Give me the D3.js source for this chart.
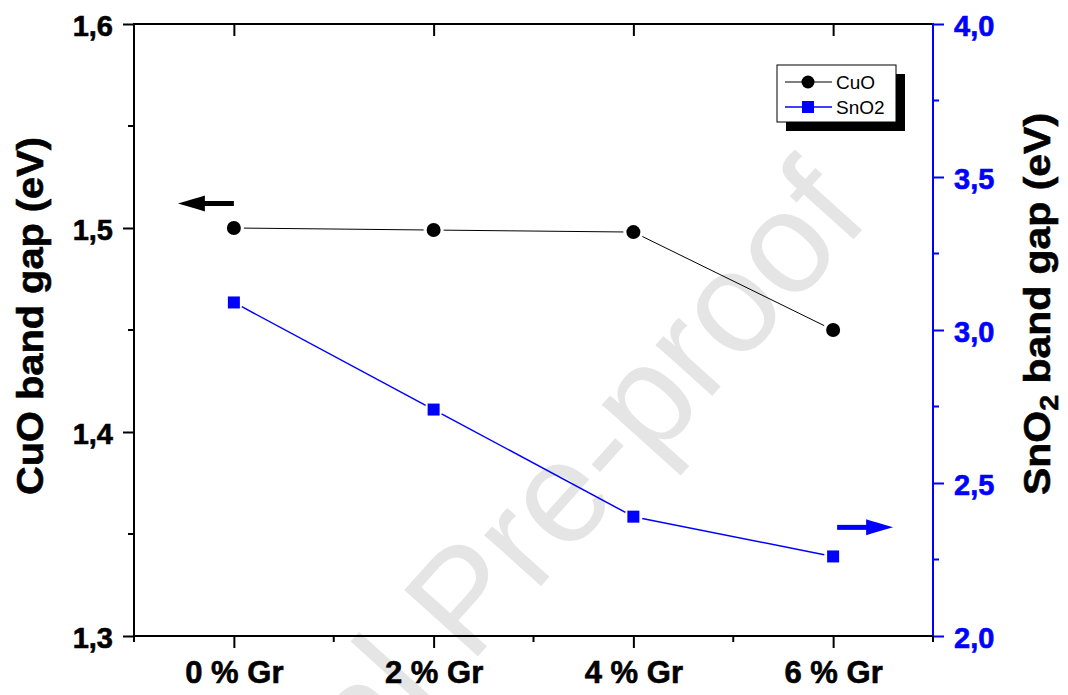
<!DOCTYPE html>
<html>
<head>
<meta charset="utf-8">
<script src="https://cdn.jsdelivr.net/npm/d3@7"></script>
<style>
  html, body { margin: 0; padding: 0; background: #fff; }
  svg { display: block; font-family: "Liberation Sans", Arial, Helvetica, sans-serif; }
</style>
</head>
<body>
<svg id="chart" width="1068" height="695"></svg>
<script>
// Graphene loading levels
const categories = ["0 % Gr", "2 % Gr", "4 % Gr", "6 % Gr"];
// Optical band gaps (eV)
const cuoGap  = [1.500, 1.499, 1.498, 1.450];
const sno2Gap = [3.09, 2.74, 2.39, 2.26];
// Axis ticks
const leftTicks   = [1.3, 1.4, 1.5, 1.6];
const leftMinor   = [1.35, 1.45, 1.55];
const rightTicks  = [2.0, 2.5, 3.0, 3.5, 4.0];
const rightMinor  = [2.25, 2.75, 3.25, 3.75];
const seriesNames = ["CuO", "SnO2"];

const BLUE = "#0000ff";
const fmt = d => d3.format(".1f")(d).replace(".", ",");

const svg = d3.select("#chart");
const plot = { left: 134, right: 933, top: 24, bottom: 636 };

const x  = d3.scalePoint().domain(categories).range([plot.left, plot.right]).padding(0.5);
const yL = d3.scaleLinear().domain([1.3, 1.6]).range([plot.bottom, plot.top]);
const yR = d3.scaleLinear().domain([2.0, 4.0]).range([plot.bottom, plot.top]);
const step = x.step();

// Watermark behind everything
const wm = svg.append("g").attr("transform", "translate(470,665) rotate(-48)")
  .attr("font-size", 144).attr("fill", "#e5e5e5");
wm.append("text").attr("text-anchor", "start").text("Pre-proof");
wm.append("text").attr("text-anchor", "end").attr("dx", -40).text("Journal");

// ---- Axes ----
function styleAxis(g, color, fontSize) {
  g.select(".domain").remove();
  g.selectAll(".tick line").attr("stroke", color).attr("stroke-width", 2);
  g.selectAll(".tick text")
    .attr("fill", color)
    .attr("stroke", color).attr("stroke-width", 0.6)
    .attr("font-size", fontSize)
    .attr("font-weight", "bold");
}

// Left (CuO) axis
const gL = svg.append("g").attr("transform", `translate(${plot.left},0)`)
  .call(d3.axisLeft(yL).tickValues(leftTicks).tickFormat(fmt).tickSize(11).tickPadding(10));
styleAxis(gL, "#000", 29);
gL.selectAll(".tick text").attr("dy", "0.38em");
gL.selectAll(".minor").data(leftMinor).join("line")
  .attr("x1", -6).attr("x2", 0)
  .attr("y1", d => yL(d)).attr("y2", d => yL(d))
  .attr("stroke", "#000").attr("stroke-width", 2);

// Right (SnO2) axis
const gR = svg.append("g").attr("transform", `translate(${plot.right},0)`)
  .call(d3.axisRight(yR).tickValues(rightTicks).tickFormat(fmt).tickSize(11).tickPadding(10));
styleAxis(gR, BLUE, 29);
gR.selectAll(".tick text").attr("dy", "0.38em");
gR.selectAll(".minor").data(rightMinor).join("line")
  .attr("x1", 0).attr("x2", 6)
  .attr("y1", d => yR(d)).attr("y2", d => yR(d))
  .attr("stroke", BLUE).attr("stroke-width", 2);

// Bottom axis
const gB = svg.append("g").attr("transform", `translate(0,${plot.bottom})`)
  .call(d3.axisBottom(x).tickSize(12).tickPadding(11));
styleAxis(gB, "#000", 31);
gB.selectAll(".tick text").attr("dy", "0.76em");
const minorX = [-1, 0, 1, 2, 3].map(i => x(categories[0]) + (i + 0.5) * step);
gB.selectAll(".minor").data(minorX).join("line")
  .attr("x1", d => d).attr("x2", d => d)
  .attr("y1", 0).attr("y2", 6)
  .attr("stroke", "#000").attr("stroke-width", 2);

// Top axis (ticks pointing inward)
const gT = svg.append("g").attr("transform", `translate(0,${plot.top})`)
  .call(d3.axisBottom(x).tickSize(12).tickFormat(""));
styleAxis(gT, "#000", 10);

// Frame lines
svg.append("line").attr("x1", plot.left).attr("x2", plot.right)
  .attr("y1", plot.top).attr("y2", plot.top).attr("stroke", "#000").attr("stroke-width", 2);
svg.append("line").attr("x1", plot.left).attr("x2", plot.right)
  .attr("y1", plot.bottom).attr("y2", plot.bottom).attr("stroke", "#000").attr("stroke-width", 2);
svg.append("line").attr("x1", plot.left).attr("x2", plot.left)
  .attr("y1", plot.top - 1).attr("y2", plot.bottom + 1).attr("stroke", "#000").attr("stroke-width", 2);
svg.append("line").attr("x1", plot.right).attr("x2", plot.right)
  .attr("y1", plot.top - 1).attr("y2", plot.bottom).attr("stroke", BLUE).attr("stroke-width", 2);

// Axis titles
svg.append("text")
  .attr("transform", `translate(43,${(137 + 495) / 2}) rotate(-90)`)
  .attr("text-anchor", "middle")
  .attr("font-size", 37).attr("font-weight", "bold")
  .attr("stroke", "#000").attr("stroke-width", 0.6)
  .attr("textLength", 358).attr("lengthAdjust", "spacingAndGlyphs")
  .text("CuO band gap (eV)");

const rt = svg.append("text")
  .attr("transform", `translate(1050,${(113 + 495) / 2}) rotate(-90)`)
  .attr("text-anchor", "middle")
  .attr("font-size", 37).attr("font-weight", "bold")
  .attr("stroke", "#000").attr("stroke-width", 0.6)
  .attr("textLength", 382).attr("lengthAdjust", "spacingAndGlyphs");
rt.append("tspan").text("SnO");
rt.append("tspan").attr("font-size", 26).attr("dy", 8).text("2");
rt.append("tspan").attr("dy", -8).text(" band gap (eV)");

// ---- Series ----
// Connecting lines leave a small gap around each marker
function gappedSegments(values, yScale, gap) {
  const pts = values.map((v, i) => [x(categories[i]), yScale(v)]);
  const segs = [];
  for (let i = 0; i < pts.length - 1; i++) {
    const [x0, y0] = pts[i], [x1, y1] = pts[i + 1];
    const len = Math.hypot(x1 - x0, y1 - y0);
    const ux = (x1 - x0) / len, uy = (y1 - y0) / len;
    segs.push([x0 + ux * gap, y0 + uy * gap, x1 - ux * gap, y1 - uy * gap]);
  }
  return segs;
}

svg.append("g").selectAll("line")
  .data(gappedSegments(cuoGap, yL, 10)).join("line")
  .attr("x1", d => d[0]).attr("y1", d => d[1]).attr("x2", d => d[2]).attr("y2", d => d[3])
  .attr("stroke", "#000").attr("stroke-width", 1);

svg.append("g").selectAll("line")
  .data(gappedSegments(sno2Gap, yR, 9)).join("line")
  .attr("x1", d => d[0]).attr("y1", d => d[1]).attr("x2", d => d[2]).attr("y2", d => d[3])
  .attr("stroke", BLUE).attr("stroke-width", 1.5);

svg.append("g").selectAll("circle")
  .data(cuoGap).join("circle")
  .attr("cx", (d, i) => x(categories[i]))
  .attr("cy", d => yL(d))
  .attr("r", 7).attr("fill", "#000");

svg.append("g").selectAll("rect")
  .data(sno2Gap).join("rect")
  .attr("x", (d, i) => x(categories[i]) - 6)
  .attr("y", d => yR(d) - 6)
  .attr("width", 12).attr("height", 12)
  .attr("fill", BLUE);

// ---- Direction arrows (which axis each series uses) ----
function arrow(x0, y0, dir, color) {
  // shaft then arrowhead; dir = -1 points left, +1 points right
  const shaft = 29, head = 27, hw = 8;
  const xs = x0 + dir * shaft, xt = xs + dir * head;
  svg.append("line").attr("x1", x0).attr("x2", xs + dir * 2).attr("y1", y0).attr("y2", y0)
    .attr("stroke", color).attr("stroke-width", 5);
  svg.append("path")
    .attr("d", `M${xt},${y0} Q${xs + dir * 10},${y0 - hw * 0.6} ${xs},${y0 - hw} L${xs},${y0 + hw} Q${xs + dir * 10},${y0 + hw * 0.6} ${xt},${y0} Z`)
    .attr("fill", color);
}
arrow(x(categories[0]), yL(1.512), -1, "#000");
arrow(x(categories[3]) + 4, yR(2.355), 1, BLUE);

// ---- Legend ----
const lg = svg.append("g").attr("transform", "translate(777,65)");
lg.append("rect").attr("x", 9).attr("y", 9).attr("width", 119).attr("height", 57).attr("fill", "#000");
lg.append("rect").attr("x", 0).attr("y", 0).attr("width", 119).attr("height", 57)
  .attr("fill", "#fff").attr("stroke", "#000").attr("stroke-width", 1);
const rows = lg.selectAll(".row").data(seriesNames).join("g")
  .attr("transform", (d, i) => `translate(0,${17 + i * 25})`);
rows.append("line").attr("x1", 8).attr("x2", 55).attr("y1", 0).attr("y2", 0)
  .attr("stroke", (d, i) => i ? BLUE : "#000").attr("stroke-width", (d, i) => i ? 1.5 : 1);
rows.filter((d, i) => i === 0).append("circle").attr("cx", 31).attr("cy", 0).attr("r", 6.5).attr("fill", "#000");
rows.filter((d, i) => i === 1).append("rect").attr("x", 25).attr("y", -6).attr("width", 12).attr("height", 12).attr("fill", BLUE);
rows.append("text").attr("x", 59).attr("y", 0).attr("dy", "0.36em")
  .attr("font-size", 19).text(d => d);
</script>
</body>
</html>
